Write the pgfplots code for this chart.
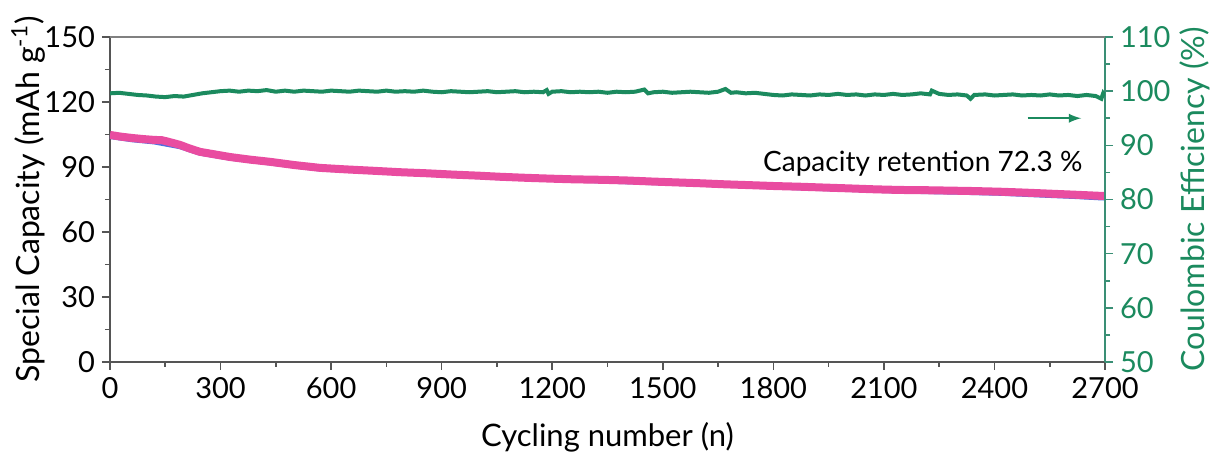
\documentclass[border=0pt]{standalone}
\usepackage{pgfplots}
\pgfplotsset{compat=1.18}
\usepackage{fontspec}
\setmainfont{Lato}
\definecolor{cegreen}{HTML}{1B8A5E}
\definecolor{axgreen}{HTML}{3A8F75}
\definecolor{cappink}{HTML}{E94CA0}
\definecolor{capblue}{HTML}{4F6FE0}
\definecolor{axgray}{HTML}{555555}

% charge capacity (pink)
\pgfplotstableread{
x    y
0    104.8
30   104.0
60   103.4
90   102.9
120  102.5
140  102.4
155  101.8
175  100.9
190  100.2
215  98.6
244  97.0
285  95.8
326  94.6
380  93.4
434  92.4
500  90.9
570  89.6
640  88.9
710  88.3
787  87.6
860  87.1
930  86.5
1000 86.0
1058 85.5
1130 85.0
1200 84.6
1260 84.3
1330 84.1
1400 83.8
1470 83.3
1535 82.9
1601 82.5
1670 82.0
1740 81.6
1805 81.2
1872 80.9
1940 80.5
2010 80.1
2075 79.7
2144 79.4
2210 79.3
2280 79.1
2345 78.9
2415 78.6
2480 78.2
2550 77.7
2620 77.2
2686 76.7
2700 76.6
}\capc

% discharge capacity (blue)
\pgfplotstableread{
x    y
0    104.3
60   102.8
120  101.8
190  99.6
244  96.6
326  94.3
570  89.3
1058 85.3
1601 82.3
1872 80.6
2144 79.1
2300 78.6
2415 78.1
2550 77.1
2620 76.6
2686 76.0
2700 75.9
}\capd

% coulombic efficiency (green)
\pgfplotstableread{
x    y
0    99.6
25   99.7
50   99.5
75   99.3
100  99.2
125  99.0
150  98.9
175  99.1
200  99.0
225  99.3
250  99.6
275  99.8
300  100.0
325  100.1
350  99.9
375  100.1
400  100.0
425  100.2
450  99.9
475  100.1
500  99.9
525  100.1
550  100.0
575  99.9
600  100.1
625  100.0
650  99.9
675  100.1
700  100.0
725  99.9
750  100.1
775  99.9
800  100.0
825  99.9
850  100.1
875  99.9
900  99.8
925  100.0
950  99.9
975  99.8
1000 99.9
1025 100.0
1050 99.8
1075 99.9
1100 100.0
1125 99.8
1150 99.9
1175 99.8
1185 100.2
1190 99.5
1200 99.9
1225 100.0
1250 99.8
1275 99.9
1300 99.8
1325 99.9
1350 99.7
1375 99.9
1400 99.8
1425 99.9
1450 100.3
1460 99.6
1475 99.8
1500 99.9
1525 99.7
1550 99.8
1575 99.9
1600 99.8
1625 99.7
1650 99.9
1670 100.4
1685 99.7
1700 99.8
1725 99.6
1750 99.7
1775 99.5
1800 99.3
1825 99.2
1850 99.4
1875 99.3
1900 99.2
1925 99.4
1950 99.3
1975 99.5
2000 99.3
2025 99.4
2050 99.2
2075 99.4
2100 99.3
2125 99.5
2150 99.3
2175 99.4
2200 99.6
2225 99.4
2230 100.1
2250 99.5
2275 99.3
2300 99.4
2325 99.2
2335 98.6
2345 99.3
2375 99.4
2400 99.2
2425 99.3
2450 99.4
2475 99.2
2500 99.3
2525 99.2
2550 99.4
2575 99.2
2600 99.3
2625 99.1
2650 99.3
2675 99.1
2690 98.6
2695 99.6
2700 99.1
}\cedata

\begin{document}
\begin{tikzpicture}
\useasboundingbox (-55pt,-52pt) rectangle (553.5pt,181pt);
\pgfplotsset{
  every axis/.append style={
    scale only axis, width=497.5pt, height=162.5pt,
    xmin=0, xmax=2700,
    /pgf/number format/assume math mode=true,
    tick label style={font=\fontsize{14.5}{16}\selectfont},
    tick align=outside,
    major tick length=4pt, minor tick length=2.5pt,
    every tick/.style={line width=0.8pt},
  }
}
\begin{axis}[
  axis y line*=left, axis x line*=bottom,
  ymin=0, ymax=150,
  ytick={0,30,60,90,120,150},
  minor ytick={15,45,75,105,135},
  xtick={0,300,...,2700},
  minor xtick={150,450,...,2550},
  x tick label style={/pgf/number format/1000 sep={}},
  axis line style={axgray, line width=1.1pt},
  every tick/.append style={axgray},
  xlabel={Cycling number (n)},
  ylabel={Special Capacity (mAh g\textsuperscript{-1})},
  xlabel style={font=\fontsize{15.5}{17}\selectfont, at={(axis description cs:0.5,-0.232)}, anchor=center},
  ylabel style={font=\fontsize{16}{18}\selectfont, at={(axis description cs:-0.082,0.5)}, anchor=center},
]
\addplot[capblue, line width=3pt] table[x=x,y=y] {\capd};
\addplot[cappink, line width=4pt] table[x=x,y=y] {\capc};
\node[font=\fontsize{14}{16}\selectfont, anchor=east] at (axis cs:2658,91.5) {Capacity retention 72.3 \%};
\draw[-latex, cegreen, line width=1.1pt] (axis cs:2490,112.5) -- (axis cs:2635,112.5);
\end{axis}
\begin{axis}[
  axis y line*=right, axis x line=none,
  ymin=50, ymax=110,
  ytick={50,60,...,110},
  minor ytick={55,65,...,105},
  axis line style={axgreen, line width=1.1pt},
  every tick/.append style={axgreen},
  y tick label style={text=cegreen},
  ylabel={Coulombic Efficiency (\%)},
  ylabel style={font=\fontsize{16}{18}\selectfont, text=cegreen, at={(axis description cs:1.09,0.5)}, anchor=center},
]
\addplot[cegreen, line width=2pt] table[x=x,y=y] {\cedata};
\end{axis}
\draw[gray, line width=1pt] (0,162.5pt) -- (497.5pt,162.5pt);
\end{tikzpicture}
\end{document}
